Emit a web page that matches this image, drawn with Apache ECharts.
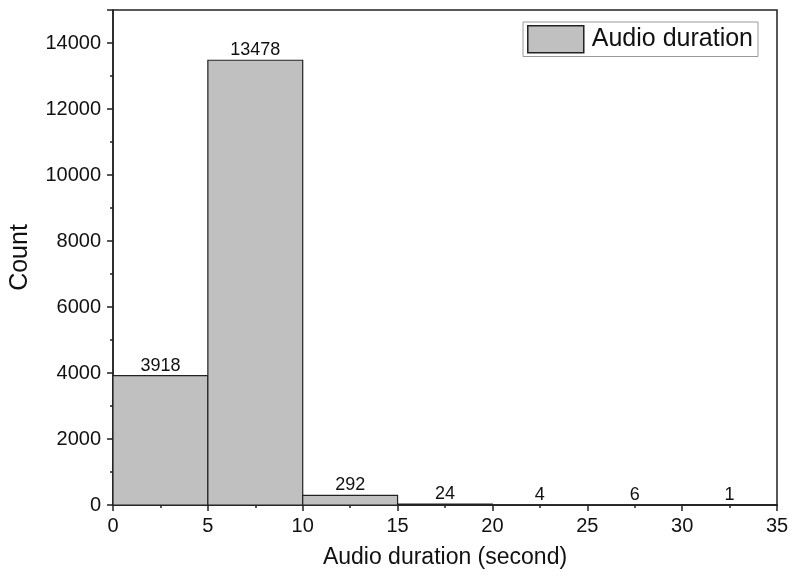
<!DOCTYPE html>
<html><head><meta charset="utf-8">
<script src="https://cdn.jsdelivr.net/npm/echarts@6/dist/echarts.min.js"></script>
<style>html,body{margin:0;padding:0;background:#fff}#c{width:792px;height:580px}</style>
</head><body><div id="c"></div>
<script>
const binStarts = [0, 5, 10, 15, 20, 25, 30];
const binEnds = [5, 10, 15, 20, 25, 30, 35];
const counts = [3918, 13478, 292, 24, 4, 6, 1];
const seriesName = 'Audio duration';
const xTicks = [0, 5, 10, 15, 20, 25, 30, 35];
const yTicks = [0, 2000, 4000, 6000, 8000, 10000, 12000, 14000];

const data = binStarts.map((s, i) => [s, binEnds[i], counts[i]]);
const font = 'Arial, "Liberation Sans", sans-serif';
const chart = echarts.init(document.getElementById('c'));
chart.setOption({
  animation: false,
  grid: {left: 112, right: 15, top: 10, bottom: 75, show: true, borderColor: '#222', borderWidth: 1.5, backgroundColor: 'transparent'},
  legend: {
    right: 34, top: 22, orient: 'horizontal',
    data: [{name: seriesName, icon: 'rect', itemStyle: {color: '#c0c0c0', borderColor: '#222', borderWidth: 1.5}}],
    itemWidth: 56, itemHeight: 27, itemGap: 5,
    borderColor: '#999', borderWidth: 1, padding: [3, 5, 3, 4],
    textStyle: {fontFamily: font, fontSize: 25, color: '#111', padding: [0, 0, 0, 3]}
  },
  xAxis: {
    type: 'value', min: 0, max: 35, interval: 5,
    name: 'Audio duration (second)', nameLocation: 'middle', nameGap: 41,
    nameTextStyle: {fontFamily: font, fontSize: 23, color: '#111'},
    axisLine: {show: true, onZero: false, lineStyle: {color: '#222', width: 1.5}},
    axisTick: {show: true, inside: false, length: 6, lineStyle: {color: '#222', width: 1.5}},
    minorTick: {show: true, splitNumber: 2, length: 3, lineStyle: {color: '#222', width: 1.5}},
    splitLine: {show: false},
    axisLabel: {fontFamily: font, fontSize: 20, color: '#111', margin: 11,
      formatter: v => xTicks.includes(v) ? String(v) : ''}
  },
  yAxis: {
    type: 'value', min: 0, max: 15000, interval: 2000,
    name: 'Count', nameLocation: 'middle', nameGap: 80, nameRotate: 90,
    nameTextStyle: {fontFamily: font, fontSize: 25, color: '#111'},
    axisLine: {show: true, lineStyle: {color: '#222', width: 1.5}},
    axisTick: {show: true, inside: false, length: 6, lineStyle: {color: '#222', width: 1.5}},
    minorTick: {show: true, splitNumber: 2, length: 3, lineStyle: {color: '#222', width: 1.5}},
    splitLine: {show: false},
    axisLabel: {fontFamily: font, fontSize: 20, color: '#111', margin: 12,
      formatter: v => yTicks.includes(v) ? String(v) : ''}
  },
  series: [{
    name: seriesName, type: 'custom',
    itemStyle: {color: '#c0c0c0'},
    encode: {x: [0, 1], y: 2},
    data: data,
    renderItem: (params, api) => {
      const p0 = api.coord([api.value(0), api.value(2)]);
      const p1 = api.coord([api.value(1), 0]);
      return {
        type: 'group',
        children: [{
          type: 'rect',
          shape: {x: p0[0], y: p0[1], width: p1[0] - p0[0], height: p1[1] - p0[1]},
          style: {fill: '#c0c0c0', stroke: '#222', lineWidth: 1.2}
        }, {
          type: 'text',
          style: {text: String(api.value(2)), x: (p0[0] + p1[0]) / 2, y: p0[1] - 1,
            align: 'center', verticalAlign: 'bottom', fill: '#111', font: '18px ' + font}
        }]
      };
    }
  }]
});
</script></body></html>
